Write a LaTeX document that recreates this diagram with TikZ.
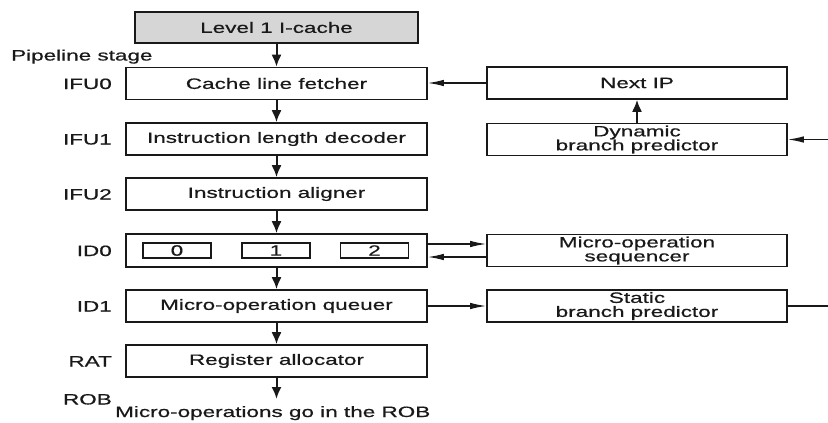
\documentclass[tikz,border=0pt]{standalone}
\usepackage{fontspec}
\setmainfont{Liberation Sans}[FakeStretch=1.5, FakeBold=0.6]
\usetikzlibrary{arrows.meta}
\begin{document}
\begin{tikzpicture}[x=1pt,y=-1pt,
  font=\fontsize{15}{14}\selectfont,
  stagebox/.style={draw=black!90, line width=1.6pt, minimum width=301pt, minimum height=32pt, inner sep=0pt, align=center, text=black!90},
  sidebox/.style={stagebox, minimum width=300pt},
  slot/.style={draw=black!90, line width=1.4pt, minimum width=68pt, minimum height=15pt, inner sep=0pt, text=black!90},
  stagelbl/.style={anchor=base east, inner sep=0pt, text=black!90},
  down/.style={draw=black!90, line width=2pt, -{Latex[length=12pt,width=10pt]}},
  side/.style={draw=black!90, line width=1.3pt, -{Latex[length=16pt,width=6.5pt]}},
  plain/.style={draw=black!90, line width=1.3pt}]
\useasboundingbox (0,0) rectangle (828,423);

% cache at the top
\node[stagebox, fill=black!16, minimum width=283pt, minimum height=31pt] (cache) at (276.5,27.5) {Level 1 I-cache};

% pipeline column
\node[stagebox] (ifu0) at (276.5,83.5) {Cache line fetcher};
\node[stagebox] (ifu1) at (276.5,139) {Instruction length decoder};
\node[stagebox] (ifu2) at (276.5,194) {Instruction aligner};
\node[stagebox, minimum height=33pt] (id0) at (276.5,250.5) {};
\node[slot] (s0) at (177,250.5) {0};
\node[slot] (s1) at (276,250.5) {1};
\node[slot] (s2) at (374.5,250.5) {2};
\node[stagebox] (id1) at (276.5,306) {Micro-operation queuer};
\node[stagebox] (rat) at (276.5,361) {Register allocator};
\coordinate (rob) at (276.5,399);

% stage names
\node[anchor=base west, inner sep=0pt, text=black!90] (ps) at (11,60.5) {Pipeline stage};
\node[stagelbl] (l0) at (112,89) {IFU0};
\node[stagelbl] (l1) at (112,144.5) {IFU1};
\node[stagelbl] (l2) at (112,199.5) {IFU2};
\node[stagelbl] (l3) at (112,256) {ID0};
\node[stagelbl] (l4) at (112,311.5) {ID1};
\node[stagelbl] (l5) at (112,366.5) {RAT};
\node[stagelbl] (l6) at (112,404.5) {ROB};
\node[anchor=base west, inner sep=0pt, text=black!90] (out) at (115,417) {Micro-operations go in the ROB};

% side units
\node[sidebox] (nip) at (637,83) {Next IP};
\node[sidebox] (dyn) at (637,139.5) {Dynamic\\branch predictor};
\node[sidebox] (seq) at (637,250.5) {Micro-operation\\sequencer};
\node[sidebox] (sta) at (637,306) {Static\\branch predictor};

% edge of the drawing on the right
\coordinate (dynin) at (828,139.5);
\coordinate (staout) at (828,306);

% main flow
\draw[down] (cache) -- (ifu0);
\draw[down] (ifu0) -- (ifu1);
\draw[down] (ifu1) -- (ifu2);
\draw[down] (ifu2) -- (id0);
\draw[down] (id0) -- (id1);
\draw[down] (id1) -- (rat);
\draw[down] (rat) -- (rob);

% side connections
\draw[side] (nip) -- (ifu0.east |- nip);
\draw[down] (dyn) -- (nip);
\draw[side] (dynin) -- (dyn.east |- dynin);
\draw[side] (id0.east |- 0,244) -- (seq.west |- 0,244);
\draw[side] (seq.west |- 0,257) -- (id0.east |- 0,257);
\draw[side] (id1) -- (sta.west |- id1);
\draw[plain] (sta.east |- staout) -- (staout);
\end{tikzpicture}
\end{document}
